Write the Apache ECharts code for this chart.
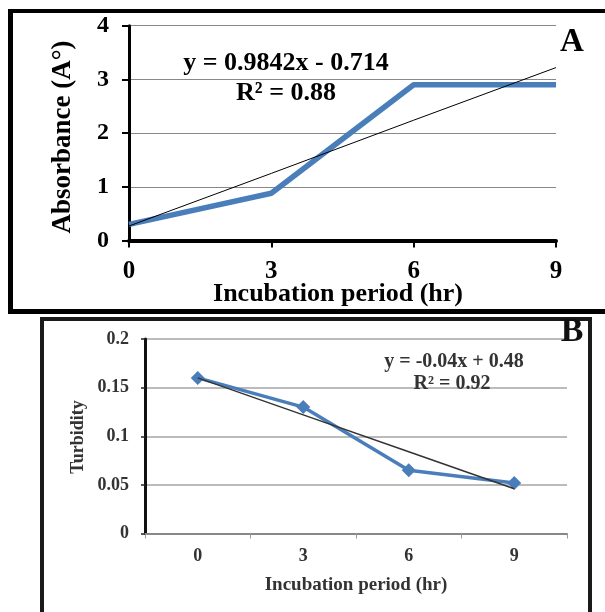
<!DOCTYPE html>
<html>
<head>
<meta charset="utf-8">
<script src="https://cdn.jsdelivr.net/npm/echarts@6/dist/echarts.min.js"></script>
<style>
html,body{margin:0;padding:0;background:#fff;}
#chart{width:605px;height:612px;}
</style>
</head>
<body>
<div id="chart"></div>
<script>
// ---- data ----
const hoursA = [0, 3, 6, 9];
const absorbance = [0.3, 0.88, 2.9, 2.9];
const absorbanceTrend = [0.27, 1.25, 2.24, 3.22];
const hoursB = ['0', '3', '6', '9'];
const turbidity = [0.16, 0.13, 0.065, 0.052];
const turbidityTrend = [0.16, 0.122, 0.084, 0.046];
const eqA = 'y = 0.9842x - 0.714';
const r2A = 'R² = 0.88';
const eqB = 'y = -0.04x + 0.48';
const r2B = 'R² = 0.92';
const xTitle = 'Incubation period (hr)';
const yTitleA = 'Absorbance (A°)';
const yTitleB = 'Turbidity';

const serif = "'Liberation Serif', 'DejaVu Serif', serif";
const chart = echarts.init(document.getElementById('chart'), null, {renderer: 'canvas'});

const pairsA = hoursA.map((h, i) => [h, absorbance[i]]);
const trendPairsA = hoursA.map((h, i) => [h, absorbanceTrend[i]]);

function txt(x, y, text, size, color, extra) {
  return Object.assign({
    type: 'text', x: x, y: y, z: 100,
    style: {text: text, font: 'bold ' + size + 'px ' + serif, fill: color || '#000',
            align: 'center', verticalAlign: 'middle'}
  }, extra || {});
}
function ln(x1, y1, x2, y2, w, c) {
  return {type: 'line', z: 90, shape: {x1: x1, y1: y1, x2: x2, y2: y2},
          style: {stroke: c || '#000', lineWidth: w}};
}

chart.setOption({
  animation: false,
  backgroundColor: '#fff',
  grid: [
    {left: 129, right: 49, top: 25.7, bottom: 371.5, containLabel: false},
    {left: 145, right: 38, top: 339, bottom: 78.5, containLabel: false}
  ],
  xAxis: [
    {
      gridIndex: 0, type: 'value', min: 0, max: 9, interval: 3,
      axisLine: {show: true, lineStyle: {color: '#000', width: 4}},
      axisTick: {show: true, length: 7, lineStyle: {color: '#000', width: 2}},
      axisLabel: {fontFamily: serif, fontWeight: 'bold', fontSize: 25, color: '#000', margin: 19},
      splitLine: {show: false}
    },
    {
      gridIndex: 1, type: 'category', data: hoursB, boundaryGap: true,
      axisLine: {show: true, lineStyle: {color: '#888', width: 2}},
      axisTick: {show: true, length: 5, alignWithLabel: false, lineStyle: {color: '#999', width: 1}},
      axisLabel: {fontFamily: serif, fontWeight: 'bold', fontSize: 18, color: '#333', margin: 14},
      splitLine: {show: false}
    }
  ],
  yAxis: [
    {
      gridIndex: 0, type: 'value', min: 0, max: 4, interval: 1,
      axisLine: {show: true, lineStyle: {color: '#000', width: 3}},
      axisTick: {show: true, length: 7, lineStyle: {color: '#000', width: 2}},
      axisLabel: {fontFamily: serif, fontWeight: 'bold', fontSize: 24, color: '#000', margin: 20},
      splitLine: {show: true, lineStyle: {color: '#888', width: 1}}
    },
    {
      gridIndex: 1, type: 'value', min: 0, max: 0.2, interval: 0.05,
      axisLine: {show: true, lineStyle: {color: '#111', width: 3}},
      axisTick: {show: true, length: 4, lineStyle: {color: '#222', width: 1.5}},
      axisLabel: {fontFamily: serif, fontWeight: 'bold', fontSize: 18, color: '#333', margin: 16},
      splitLine: {show: true, lineStyle: {color: '#bbb', width: 2}}
    }
  ],
  series: [
    {
      type: 'line', xAxisIndex: 0, yAxisIndex: 0, data: pairsA,
      showSymbol: false, symbol: 'none',
      lineStyle: {color: '#4a7ebb', width: 5.5}, z: 3
    },
    {
      type: 'line', xAxisIndex: 0, yAxisIndex: 0, data: trendPairsA,
      showSymbol: false, symbol: 'none',
      lineStyle: {color: '#000', width: 1}, z: 4
    },
    {
      type: 'line', xAxisIndex: 1, yAxisIndex: 1, data: turbidity,
      symbol: 'diamond', symbolSize: 14,
      itemStyle: {color: '#4a7ebb'},
      lineStyle: {color: '#4a7ebb', width: 3.5}, z: 3
    },
    {
      type: 'line', xAxisIndex: 1, yAxisIndex: 1, data: turbidityTrend,
      showSymbol: false, symbol: 'none',
      lineStyle: {color: '#333', width: 1.5}, z: 4
    }
  ],
  graphic: [
    // panel A frame
    ln(8, 11, 605, 11, 4),
    ln(10.5, 9, 10.5, 314, 5),
    ln(8, 311.5, 605, 311.5, 5),
    // panel B frame
    ln(40, 319, 592, 319, 4, '#1a1a1a'),
    ln(42, 317, 42, 612, 4, '#1a1a1a'),
    ln(590, 317, 590, 612, 4, '#1a1a1a'),
    // panel A texts
    txt(63, 137, yTitleA, 27, '#000', {rotation: Math.PI / 2}),
    txt(338, 294, xTitle, 26),
    txt(286, 63, eqA, 26),
    txt(286, 93, r2A, 26),
    txt(572, 42, 'A', 33),
    // panel B texts
    txt(78, 437, yTitleB, 18, '#333', {rotation: Math.PI / 2}),
    txt(356, 585, xTitle, 19, '#333'),
    txt(454, 362, eqB, 20, '#333'),
    txt(452, 384, r2B, 20, '#333'),
    txt(572, 332, 'B', 34, '#111')
  ]
});
</script>
</body>
</html>
